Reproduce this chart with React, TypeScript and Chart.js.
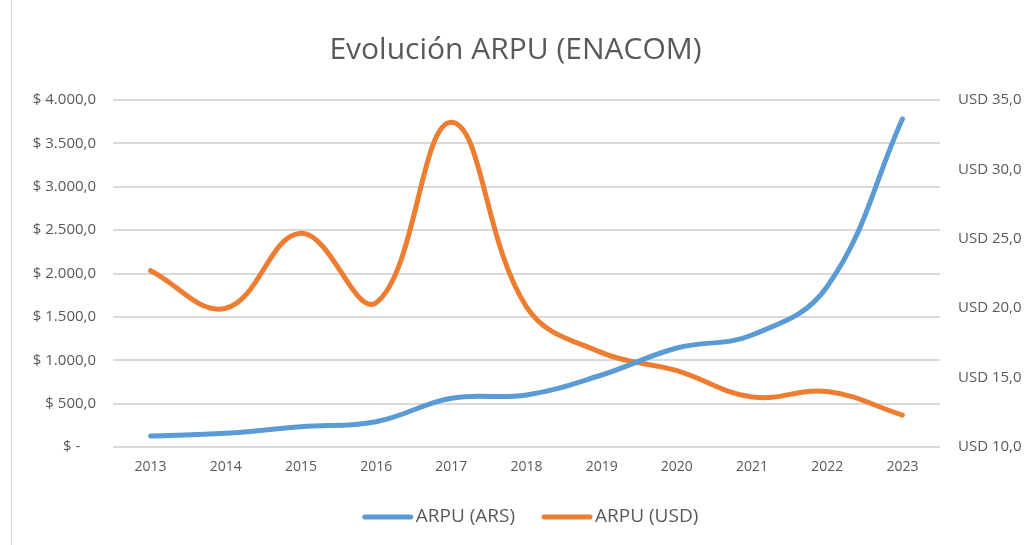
import React, { useEffect, useRef } from "react";
import { Chart, registerables } from "chart.js";

Chart.register(...registerables);

const years = ["2013", "2014", "2015", "2016", "2017", "2018", "2019", "2020", "2021", "2022", "2023"];
const arpuArs = [127, 158, 234, 292, 561, 600, 830, 1141, 1291, 1850, 3782];
const arpuUsd = [22.7, 20.0, 25.4, 20.4, 33.4, 20.1, 16.8, 15.5, 13.6, 14.0, 12.3];
const leftTicks = [0, 500, 1000, 1500, 2000, 2500, 3000, 3500, 4000];
const rightTicks = [10, 15, 20, 25, 30, 35];

const W = 1031;
const H = 545;
const PLOT_LEFT = 113;
const PLOT_RIGHT = 940;
const PLOT_BOTTOM = 447;
const FONT = "'Open Sans', 'Noto Sans', sans-serif";
const TEXT = "#595959";

const fmtArs = (v: number) => {
  if (v === 0) return "$ -    ";
  const s = v.toFixed(1).split(".");
  const int = s[0].replace(/\B(?=(\d{3})+(?!\d))/g, ".");
  return "$ " + int + "," + s[1];
};
const fmtUsd = (v: number) => "USD " + v.toFixed(1).replace(".", ",");

const legendPlugin = {
  id: "customLegend",
  afterDraw(chart: any) {
    const ctx = chart.ctx;
    const ds = chart.data.datasets;
    const lineW = 50;
    const gap = 3;
    const spacing = 27;
    ctx.save();
    ctx.font = `19px ${FONT}`;
    const widths = ds.map((d: any) => lineW + gap + ctx.measureText(d.label).width);
    const total = widths.reduce((a: number, b: number) => a + b, 0) + spacing * (ds.length - 1);
    const cx = (chart.chartArea.left + chart.chartArea.right) / 2 + 4;
    let x = cx - total / 2;
    const y = 517;
    ds.forEach((d: any, i: number) => {
      ctx.strokeStyle = d.borderColor;
      ctx.lineWidth = 5;
      ctx.lineCap = "round";
      ctx.beginPath();
      ctx.moveTo(x + 2, y);
      ctx.lineTo(x + lineW - 2, y);
      ctx.stroke();
      ctx.fillStyle = TEXT;
      ctx.textBaseline = "middle";
      ctx.textAlign = "left";
      ctx.fillText(d.label, x + lineW + gap, y);
      x += widths[i] + spacing;
    });
    ctx.restore();
  },
};

export default function App() {
  const ref = useRef<HTMLCanvasElement | null>(null);
  useEffect(() => {
    document.body.style.margin = "0";
    const canvas = ref.current;
    if (!canvas) return;
    const chart = new Chart(canvas, {
      type: "line",
      data: {
        labels: years,
        datasets: [
          {
            label: "ARPU (ARS)",
            data: arpuArs,
            borderColor: "#5B9BD5",
            backgroundColor: "#5B9BD5",
            borderWidth: 5,
            pointRadius: 0,
            tension: 0.4,
            borderCapStyle: "round",
            yAxisID: "y",
          },
          {
            label: "ARPU (USD)",
            data: arpuUsd,
            borderColor: "#ED7D31",
            backgroundColor: "#ED7D31",
            borderWidth: 5,
            pointRadius: 0,
            tension: 0.4,
            borderCapStyle: "round",
            yAxisID: "y1",
          },
        ],
      },
      plugins: [legendPlugin],
      options: {
        responsive: false,
        animation: false,
        layout: { padding: 0 },
        plugins: {
          tooltip: { enabled: false },
          legend: { display: false },
          title: {
            display: true,
            text: "Evolución ARPU (ENACOM)",
            color: TEXT,
            font: { family: FONT, size: 30, weight: "normal", lineHeight: 1.2 },
            padding: { top: 32.5, bottom: 31.5 },
          },
        },
        scales: {
          x: {
            offset: true,
            grid: { display: false, drawTicks: false },
            border: { display: false },
            ticks: { color: TEXT, font: { family: FONT, size: 14 }, padding: 12, maxRotation: 0 },
            afterFit: (s: any) => {
              s.height = H - PLOT_BOTTOM;
            },
          },
          y: {
            position: "left",
            min: 0,
            max: 4000,
            afterBuildTicks: (s: any) => {
              s.ticks = leftTicks.map((v) => ({ value: v }));
            },
            grid: { color: "#DADADA", lineWidth: 2, drawTicks: false },
            border: { display: false },
            ticks: {
              color: TEXT,
              font: { family: FONT, size: 15 },
              padding: 17,
              callback: (v: any) => fmtArs(Number(v)),
            },
            afterFit: (s: any) => {
              s.width = PLOT_LEFT;
            },
          },
          y1: {
            position: "right",
            min: 10,
            max: 35,
            afterBuildTicks: (s: any) => {
              s.ticks = rightTicks.map((v) => ({ value: v }));
            },
            grid: { display: false, drawTicks: false },
            border: { display: false },
            ticks: {
              color: TEXT,
              font: { family: FONT, size: 15 },
              padding: 18,
              callback: (v: any) => fmtUsd(Number(v)),
            },
            afterFit: (s: any) => {
              s.width = W - PLOT_RIGHT;
            },
          },
        },
      },
    } as any);
    return () => chart.destroy();
  }, []);
  return (
    <div style={{ position: "relative", width: W, height: H, background: "#fff", overflow: "hidden" }}>
      <canvas ref={ref} width={W} height={H} style={{ display: "block" }} />
      <div style={{ position: "absolute", left: 11, top: 0, width: 1, height: H, background: "#D9D9D9" }} />
    </div>
  );
}
